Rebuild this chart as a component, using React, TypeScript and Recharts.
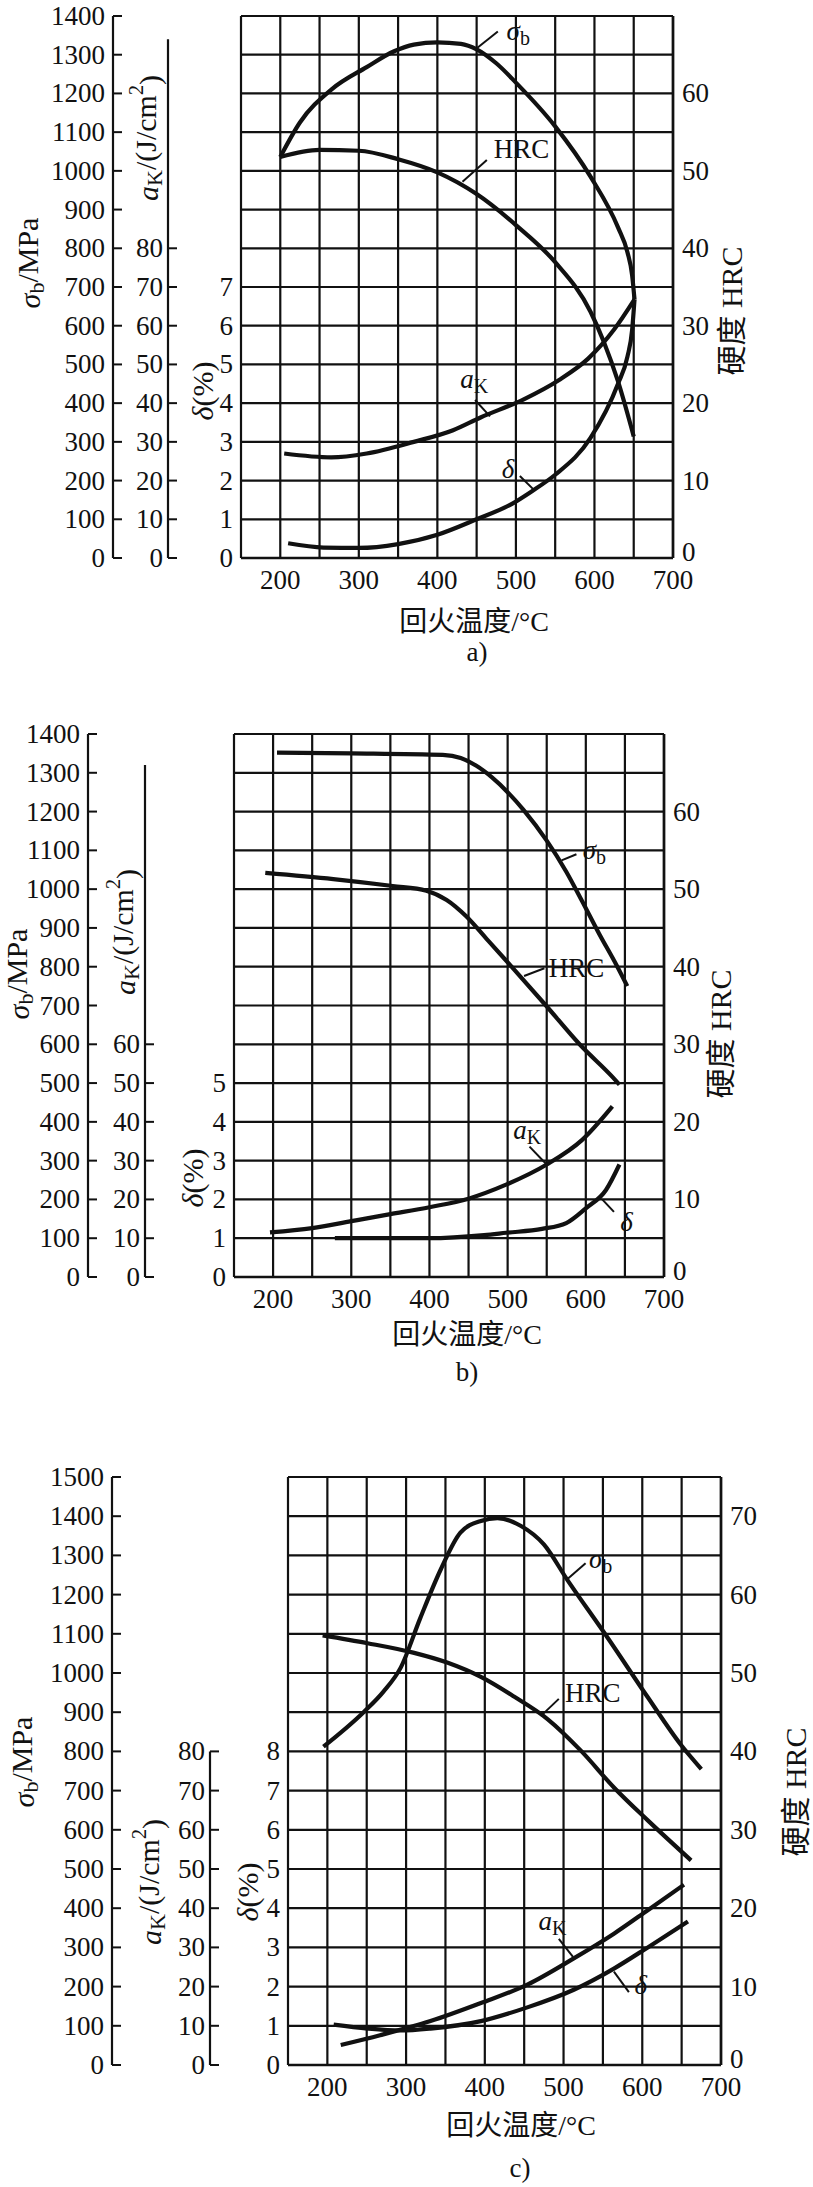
import React from "react";
import {
	CartesianGrid,
	Line,
	LineChart,
	ReferenceDot,
	ReferenceLine,
	XAxis,
	YAxis,
} from "recharts";

type Pt = [number, number];

const FONT = "'Liberation Serif', 'Times New Roman', 'Noto Sans CJK SC', serif";
const INK = "#111";
const PAGE_W = 813;

// shared temperature axis (°C)
const TEMP_TICKS = [150, 200, 250, 300, 350, 400, 450, 500, 550, 600, 650, 700];

// ---- a) ----
const A_SIGMA_B: Pt[] = [[200, 1036], [225, 1125], [265, 1210], [310, 1268], [345, 1309], [370, 1326], [400, 1332], [430, 1328], [450, 1314], [475, 1278], [500, 1228], [550, 1115], [595, 985], [630, 854], [642, 790], [648, 730], [651, 668]];
const A_HRC: Pt[] = [[200, 51.8], [250, 52.7], [300, 52.6], [350, 51.5], [400, 49.8], [450, 47], [500, 43], [550, 38.2], [595, 31.8], [612, 27.9], [630, 22.8], [650, 15.7]];
const A_AK: Pt[] = [[205, 27], [265, 26], [310, 27], [370, 30], [420, 33], [455, 36.3], [510, 41], [555, 46], [592, 51.5], [625, 59], [651, 66.8]];
const A_DELTA: Pt[] = [[210, 0.38], [255, 0.27], [300, 0.26], [350, 0.36], [400, 0.6], [450, 1.0], [495, 1.4], [520, 1.72], [550, 2.15], [595, 3.1], [630, 4.5], [642, 5.2], [648, 5.9], [651, 6.68]];
const A_SIGMA_TICKS = [0, 100, 200, 300, 400, 500, 600, 700, 800, 900, 1000, 1100, 1200, 1300, 1400];
const A_AK_TICKS = [0, 10, 20, 30, 40, 50, 60, 70, 80];
const A_DELTA_TICKS = [0, 1, 2, 3, 4, 5, 6, 7];
const A_HRC_TICKS = [0, 5, 10, 15, 20, 25, 30, 35, 40, 45, 50, 55, 60, 65, 70];

// ---- b) ----
const B_SIGMA_B: Pt[] = [[205, 1352], [300, 1350], [417, 1346], [440, 1338], [460, 1318], [480, 1288], [500, 1250], [520, 1205], [550, 1125], [575, 1045], [595, 970], [617, 885], [639, 805], [653, 750]];
const B_HRC: Pt[] = [[190, 52.1], [277, 51.3], [353, 50.4], [396, 49.8], [422, 48.6], [447, 46.5], [473, 43.6], [498, 40.8], [549, 35], [592, 30], [634, 25.8], [643, 24.8]];
const B_AK: Pt[] = [[196, 11.5], [250, 12.6], [300, 14.4], [350, 16.2], [400, 18], [450, 20.2], [498, 23.8], [550, 29], [595, 35.3], [634, 44]];
const B_DELTA: Pt[] = [[279, 1.0], [400, 1.0], [470, 1.08], [498, 1.14], [544, 1.24], [575, 1.39], [600, 1.77], [626, 2.25], [643, 2.9]];
const B_SIGMA_TICKS = [0, 100, 200, 300, 400, 500, 600, 700, 800, 900, 1000, 1100, 1200, 1300, 1400];
const B_AK_TICKS = [0, 10, 20, 30, 40, 50, 60];
const B_DELTA_TICKS = [0, 1, 2, 3, 4, 5];
const B_HRC_TICKS = [0, 5, 10, 15, 20, 25, 30, 35, 40, 45, 50, 55, 60, 65, 70];

// ---- c) ----
const C_SIGMA_B: Pt[] = [[195, 812], [246, 900], [271, 952], [293, 1013], [318, 1140], [344, 1264], [369, 1358], [395, 1388], [416, 1395], [446, 1375], [475, 1328], [505, 1237], [556, 1090], [607, 938], [649, 817], [675, 755]];
const C_HRC: Pt[] = [[194, 54.8], [251, 53.8], [309, 52.6], [353, 51.3], [395, 49.5], [437, 47], [480, 44.1], [522, 40.1], [564, 35.4], [607, 31.2], [662, 26.1]];
const C_AK: Pt[] = [[217, 5.1], [267, 7.6], [331, 11.2], [395, 15.8], [454, 20.5], [513, 27.2], [564, 33.5], [607, 39.5], [653, 46]];
const C_DELTA: Pt[] = [[208, 1.03], [251, 0.93], [293, 0.88], [331, 0.93], [395, 1.12], [454, 1.47], [513, 1.92], [564, 2.46], [607, 3.0], [658, 3.66]];
const C_SIGMA_TICKS = [0, 100, 200, 300, 400, 500, 600, 700, 800, 900, 1000, 1100, 1200, 1300, 1400, 1500];
const C_AK_TICKS = [0, 10, 20, 30, 40, 50, 60, 70, 80];
const C_DELTA_TICKS = [0, 1, 2, 3, 4, 5, 6, 7, 8];
const C_HRC_TICKS = [0, 5, 10, 15, 20, 25, 30, 35, 40, 45, 50, 55, 60, 65, 70, 75];

// curve names: text spot and leader line, in (°C, HRC scale)
type Note = { kind: string; at: Pt; from: Pt; to: Pt };
const A_NOTES: Note[] = [
	{ kind: "sb", at: [503, 68], from: [451, 65.9], to: [477, 68] },
	{ kind: "hrc", at: [507, 52.8], from: [432, 48.6], to: [463, 51.4] },
	{ kind: "ak", at: [447, 23.1], from: [448, 20.4], to: [467, 18.3] },
	{ kind: "d", at: [490, 11.5], from: [505, 10.6], to: [522, 8.9] },
];
const B_NOTES: Note[] = [
	{ kind: "sb", at: [611, 55], from: [569, 53.7], to: [588, 54.5] },
	{ kind: "hrc", at: [588, 39.8], from: [521, 38.8], to: [547, 39.8] },
	{ kind: "ak", at: [525, 18.9], from: [528, 16.8], to: [549, 14.6] },
	{ kind: "d", at: [652, 7.1], from: [621, 10], to: [636, 8.4] },
];
const C_NOTES: Note[] = [
	{ kind: "sb", at: [547, 64.5], from: [505, 62.0], to: [528, 64] },
	{ kind: "hrc", at: [537, 47.5], from: [471, 44.5], to: [494, 46.7] },
	{ kind: "ak", at: [486, 18.4], from: [494, 16.1], to: [512, 13.8] },
	{ kind: "d", at: [598, 10.2], from: [564, 11.9], to: [583, 9.3] },
];

type PanelCfg = {
	key: string;
	letter: string;
	top: number;
	height: number;
	plotTop: number;
	plotBottom: number;
	sbW: number;
	akW: number;
	dW: number;
	rightW: number;
	hrcMax: number;
	hrcLabelMax: number;
	akLineTop: number;
	sbTicks: number[];
	akTicks: number[];
	dTicks: number[];
	hrcTicks: number[];
	sb: Pt[];
	hrc: Pt[];
	ak: Pt[];
	d: Pt[];
	notes: Note[];
	sbTitle: Pt;
	akTitle: Pt;
	dTitle: Pt;
	hrcTitle: Pt;
	xTitle: Pt;
	letterPos: Pt;
};

const PANELS: PanelCfg[] = [
	{
		key: "a", letter: "a)", top: 0, height: 680, plotTop: 16, plotBottom: 558,
		sbW: 113, akW: 55, dW: 73, rightW: 140, hrcMax: 70, hrcLabelMax: 60, akLineTop: 134,
		sbTicks: A_SIGMA_TICKS, akTicks: A_AK_TICKS, dTicks: A_DELTA_TICKS, hrcTicks: A_HRC_TICKS,
		sb: A_SIGMA_B, hrc: A_HRC, ak: A_AK, d: A_DELTA, notes: A_NOTES,
		sbTitle: [29, 263], akTitle: [147, 138], dTitle: [202, 391], hrcTitle: [731, 311],
		xTitle: [474, 621], letterPos: [477, 652],
	},
	{
		key: "b", letter: "b)", top: 700, height: 700, plotTop: 34, plotBottom: 577,
		sbW: 88, akW: 57, dW: 89, rightW: 149, hrcMax: 70, hrcLabelMax: 60, akLineTop: 132,
		sbTicks: B_SIGMA_TICKS, akTicks: B_AK_TICKS, dTicks: B_DELTA_TICKS, hrcTicks: B_HRC_TICKS,
		sb: B_SIGMA_B, hrc: B_HRC, ak: B_AK, d: B_DELTA, notes: B_NOTES,
		sbTitle: [18, 974], akTitle: [124, 932], dTitle: [192, 1178], hrcTitle: [720, 1034],
		xTitle: [467, 1334], letterPos: [467, 1372],
	},
	{
		key: "c", letter: "c)", top: 1420, height: 767, plotTop: 57, plotBottom: 645,
		sbW: 112, akW: 98, dW: 78, rightW: 92, hrcMax: 75, hrcLabelMax: 70, akLineTop: 80,
		sbTicks: C_SIGMA_TICKS, akTicks: C_AK_TICKS, dTicks: C_DELTA_TICKS, hrcTicks: C_HRC_TICKS,
		sb: C_SIGMA_B, hrc: C_HRC, ak: C_AK, d: C_DELTA, notes: C_NOTES,
		sbTitle: [23, 1762], akTitle: [150, 1882], dTitle: [247, 1892], hrcTitle: [795, 1792],
		xTitle: [521, 2125], letterPos: [520, 2168],
	},
];

const rows = (pts: Pt[]) => pts.map(([t, v]) => ({ t, v }));

const txt = {
	fontFamily: FONT,
	fill: INK,
};

function RotTitle({ px, py, children }: { px: number; py: number; children: React.ReactNode }) {
	return (
		<text
			{...txt}
			x={px}
			y={py}
			fontSize={30}
			textAnchor="middle"
			dominantBaseline="central"
			transform={`rotate(-90 ${px} ${py})`}
		>
			{children}
		</text>
	);
}

function CurveName({ kind, x, y }: { kind: string; x: number; y: number }) {
	const base = { ...txt, x, y, fontSize: 27, textAnchor: "middle" as const, dominantBaseline: "central" as const };
	if (kind === "sb")
		return (
			<text {...base}>
				<tspan fontStyle="italic">σ</tspan>
				<tspan dy="0.35em" fontSize={20}>b</tspan>
			</text>
		);
	if (kind === "ak")
		return (
			<text {...base}>
				<tspan fontStyle="italic">a</tspan>
				<tspan dy="0.35em" fontSize={20}>K</tspan>
			</text>
		);
	if (kind === "d")
		return (
			<text {...base} fontStyle="italic">
				δ
			</text>
		);
	return <text {...base}>HRC</text>;
}

function Panel({ p }: { p: PanelCfg }) {
	const plotH = p.plotBottom - p.plotTop;
	const sbMax = p.hrcMax * 20;
	const akMax = p.hrcMax * 2;
	const dMax = p.hrcMax / 5;
	const ry = (v: number) => v - p.top;

	// left scales: label left of the line, tick pointing into the chart
	const leftTick = (gap: number, len: number, axisTop?: number) => (t: any) => {
		const v = t.payload.value;
		return (
			<g>
				{len > 0 ? <line x1={t.x} x2={t.x + len} y1={t.y} y2={t.y} stroke={INK} strokeWidth={2} /> : null}
				{axisTop && v === 0 ? (
					<line x1={t.x} x2={t.x} y1={t.y} y2={t.y - (plotH * axisTop) / akMax} stroke={INK} strokeWidth={2.2} />
				) : null}
				<text {...txt} x={t.x - gap} y={t.y} fontSize={27} textAnchor="end" dominantBaseline="central">
					{v}
				</text>
			</g>
		);
	};

	const hrcTick = (t: any) => {
		const v = t.payload.value;
		if (v % 10 !== 0 || v > p.hrcLabelMax) return <g />;
		return (
			<text {...txt} x={t.x + 9} y={v === 0 ? t.y - 6 : t.y} fontSize={27} textAnchor="start" dominantBaseline="central">
				{v}
			</text>
		);
	};

	const tempTick = (t: any) => {
		const v = t.payload.value;
		if (v % 100 !== 0 || v < 200) return <g />;
		return (
			<text {...txt} x={t.x} y={t.y + 22} fontSize={27} textAnchor="middle" dominantBaseline="central">
				{v}
			</text>
		);
	};

	const lineProps = {
		dataKey: "v",
		type: "monotone" as const,
		stroke: INK,
		strokeWidth: 4.2,
		dot: false,
		activeDot: false,
		isAnimationActive: false,
	};

	return (
		<div style={{ position: "absolute", left: 0, top: p.top, width: PAGE_W, height: p.height }}>
			<LineChart
				width={PAGE_W}
				height={p.height}
				margin={{ top: p.plotTop, right: 0, bottom: 0, left: 0 }}
				accessibilityLayer={false}
			>
				<CartesianGrid yAxisId="hrc" stroke={INK} strokeWidth={2.2} />
				<XAxis
					dataKey="t"
					type="number"
					domain={[150, 700]}
					ticks={TEMP_TICKS}
					interval={0}
					height={p.height - p.plotBottom}
					axisLine={{ stroke: INK, strokeWidth: 2.6 }}
					tickLine={false}
					tickSize={0}
					tickMargin={0}
					tick={tempTick}
					label={() => (
						<g>
							<text {...txt} x={p.xTitle[0]} y={ry(p.xTitle[1])} fontSize={28} textAnchor="middle" dominantBaseline="central">
								回火温度/°C
							</text>
							<text {...txt} x={p.letterPos[0]} y={ry(p.letterPos[1])} fontSize={27} textAnchor="middle" dominantBaseline="central">
								{p.letter}
							</text>
						</g>
					)}
				/>
				{/* ids sort as a1 < a2 < a3: innermost δ, then aK, then σb outermost */}
				<YAxis
					yAxisId="a1"
					orientation="left"
					type="number"
					width={p.dW}
					domain={[0, dMax]}
					ticks={p.dTicks}
					interval={0}
					axisLine={false}
					tickLine={false}
					tickSize={0}
					tickMargin={0}
					tick={leftTick(8, 0)}
					label={() => (
						<RotTitle px={p.dTitle[0]} py={ry(p.dTitle[1])}>
							<tspan fontStyle="italic">δ</tspan>
							<tspan>(%)</tspan>
						</RotTitle>
					)}
				/>
				<YAxis
					yAxisId="a2"
					orientation="left"
					type="number"
					width={p.akW}
					domain={[0, akMax]}
					ticks={p.akTicks}
					interval={0}
					axisLine={false}
					tickLine={false}
					tickSize={0}
					tickMargin={0}
					tick={leftTick(5, 9, p.akLineTop)}
					label={() => (
						<RotTitle px={p.akTitle[0]} py={ry(p.akTitle[1])}>
							<tspan fontStyle="italic">a</tspan>
							<tspan dy="0.3em" fontSize={22}>K</tspan>
							<tspan dy="-0.3em">/(J/cm</tspan>
							<tspan dy="-0.45em" fontSize={20}>2</tspan>
							<tspan dy="0.45em">)</tspan>
						</RotTitle>
					)}
				/>
				<YAxis
					yAxisId="a3"
					orientation="left"
					type="number"
					width={p.sbW}
					domain={[0, sbMax]}
					ticks={p.sbTicks}
					interval={0}
					axisLine={{ stroke: INK, strokeWidth: 2.2 }}
					tickLine={false}
					tickSize={0}
					tickMargin={0}
					tick={leftTick(8, 9)}
					label={() => (
						<RotTitle px={p.sbTitle[0]} py={ry(p.sbTitle[1])}>
							<tspan fontStyle="italic">σ</tspan>
							<tspan dy="0.3em" fontSize={22}>b</tspan>
							<tspan dy="-0.3em">/MPa</tspan>
						</RotTitle>
					)}
				/>
				<YAxis
					yAxisId="hrc"
					orientation="right"
					type="number"
					width={p.rightW}
					domain={[0, p.hrcMax]}
					ticks={p.hrcTicks}
					interval={0}
					axisLine={{ stroke: INK, strokeWidth: 2.6 }}
					tickLine={false}
					tickSize={0}
					tickMargin={0}
					tick={hrcTick}
					label={() => (
						<RotTitle px={p.hrcTitle[0]} py={ry(p.hrcTitle[1])}>
							硬度 HRC
						</RotTitle>
					)}
				/>

				<Line yAxisId="a3" data={rows(p.sb)} {...lineProps} />
				<Line yAxisId="hrc" data={rows(p.hrc)} {...lineProps} />
				<Line yAxisId="a2" data={rows(p.ak)} {...lineProps} />
				<Line yAxisId="a1" data={rows(p.d)} {...lineProps} />

				{p.notes.map((n) => (
					<ReferenceLine
						key={`l-${n.kind}`}
						yAxisId="hrc"
						segment={[
							{ x: n.from[0], y: n.from[1] },
							{ x: n.to[0], y: n.to[1] },
						]}
						stroke={INK}
						strokeWidth={2}
						ifOverflow="visible"
					/>
				))}
				{p.notes.map((n) => (
					<ReferenceDot
						key={`t-${n.kind}`}
						yAxisId="hrc"
						x={n.at[0]}
						y={n.at[1]}
						r={1}
						ifOverflow="visible"
						shape={(s: any) => <CurveName kind={n.kind} x={s.cx} y={s.cy} />}
					/>
				))}
			</LineChart>
		</div>
	);
}

export default function App() {
	return (
		<div style={{ position: "absolute", left: 0, top: 0, width: PAGE_W, height: 2187, background: "#fff" }}>
			{PANELS.map((p) => (
				<Panel key={p.key} p={p} />
			))}
		</div>
	);
}
